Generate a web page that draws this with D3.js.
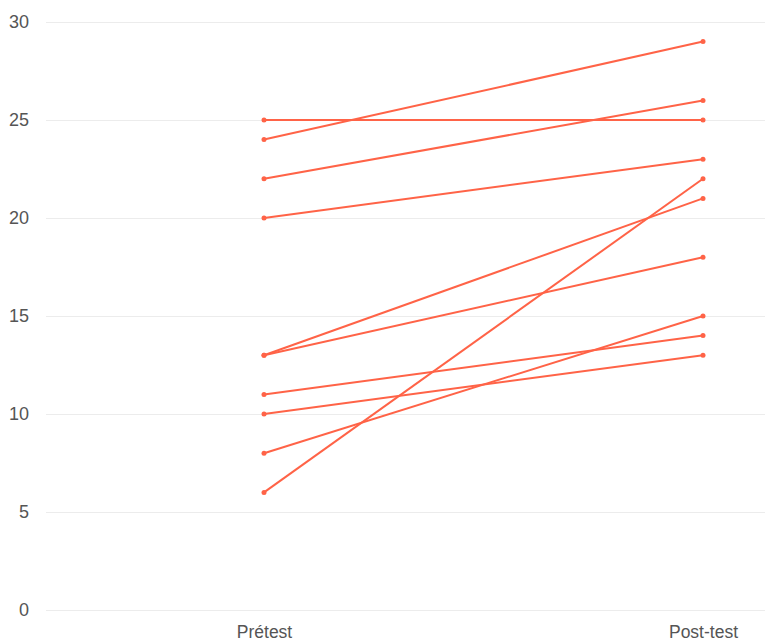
<!DOCTYPE html>
<html>
<head>
<meta charset="utf-8">
<script src="https://cdn.jsdelivr.net/npm/d3@7"></script>
<style>
  html, body { margin: 0; padding: 0; background: #fff; }
  svg { display: block; font-family: "Liberation Sans", Arial, sans-serif; }
</style>
</head>
<body>
<svg id="chart" width="765" height="641"></svg>
<script>
const categories = ["Prétest", "Post-test"];
const pretest  = [25, 24, 22, 20, 13, 13, 11, 10, 8, 6];
const posttest = [25, 29, 26, 23, 21, 18, 14, 13, 15, 22];
const yTicks = [0, 5, 10, 15, 20, 25, 30];

const svg = d3.select("#chart");
const gridLeft = 46, gridRight = 765;

const y = d3.scaleLinear().domain([0, 30]).range([610, 22]);
const x = d3.scalePoint().domain(categories).range([264, 703]);

const color = "#ff6347";

// gridlines + y labels
const yAxis = d3.axisLeft(y).tickValues(yTicks).tickSize(-(gridRight - gridLeft)).tickPadding(17);
const gy = svg.append("g").attr("transform", `translate(${gridLeft},0)`).call(yAxis);
gy.select(".domain").remove();
gy.selectAll(".tick line").attr("stroke", "#ececec").attr("stroke-width", 1);
gy.selectAll(".tick text").attr("fill", "#555").attr("font-size", 18).attr("font-family", "Liberation Sans, Arial, sans-serif");

// x axis labels
const xAxis = d3.axisBottom(x).tickSize(0).tickPadding(15.5);
const gx = svg.append("g").attr("transform", `translate(0,${y(0)})`).call(xAxis);
gx.select(".domain").remove();
gx.selectAll(".tick text").attr("fill", "#555").attr("font-size", 17.5).attr("font-family", "Liberation Sans, Arial, sans-serif");

const data = pretest.map((v, i) => [{c: categories[0], v}, {c: categories[1], v: posttest[i]}]);

const line = d3.line().x(d => x(d.c)).y(d => y(d.v));

svg.append("g").selectAll("path").data(data).join("path")
  .attr("d", line)
  .attr("fill", "none")
  .attr("stroke", color)
  .attr("stroke-width", 2);

svg.append("g").selectAll("circle").data(data.flat()).join("circle")
  .attr("cx", d => x(d.c))
  .attr("cy", d => y(d.v))
  .attr("r", 2.5)
  .attr("fill", color);
</script>
</body>
</html>
